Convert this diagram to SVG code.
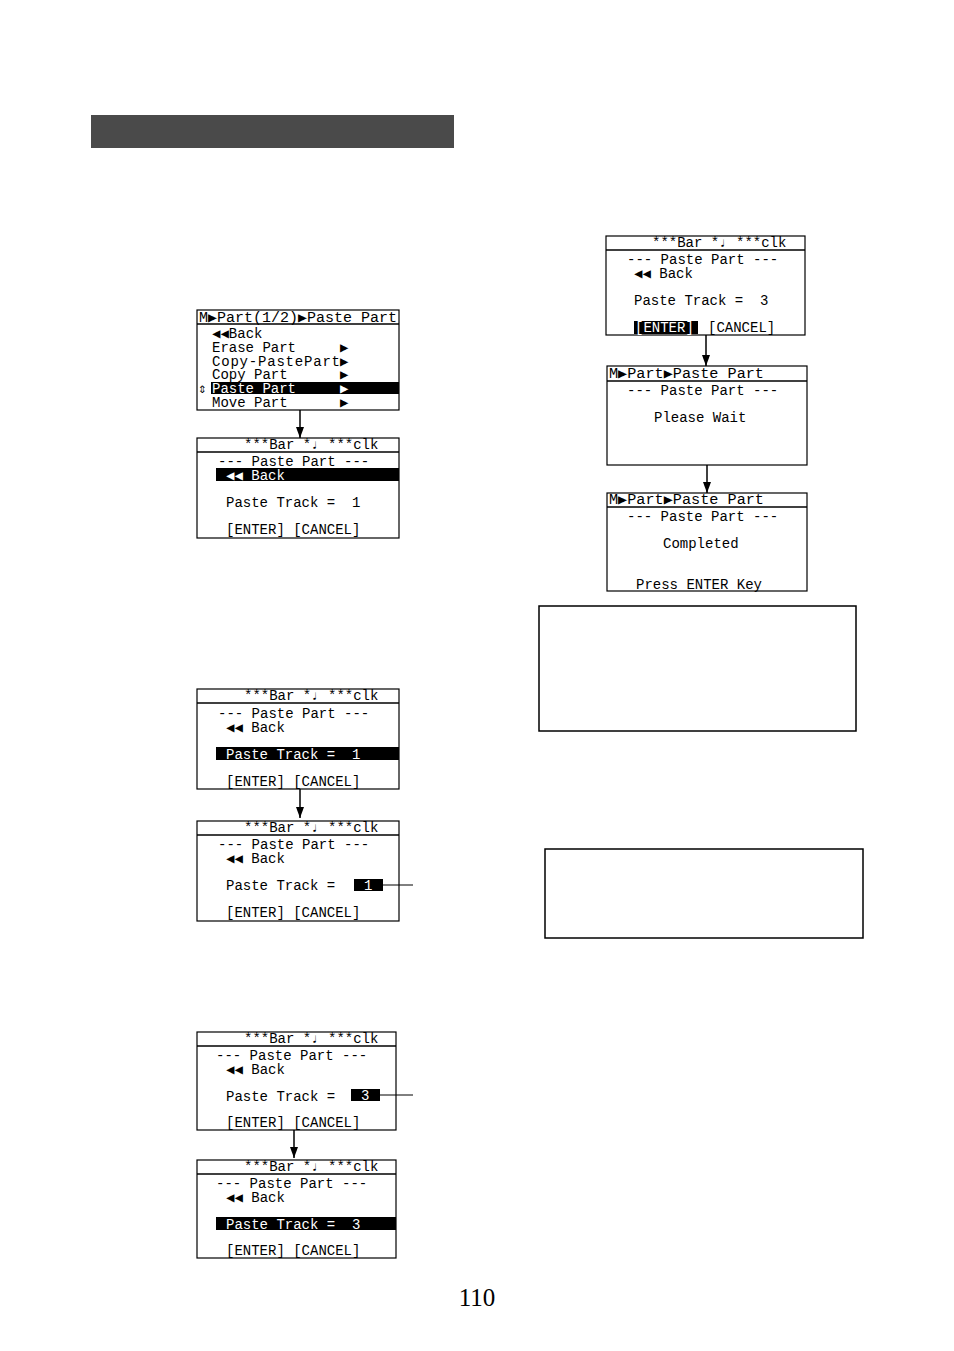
<svg xmlns="http://www.w3.org/2000/svg" width="954" height="1351" viewBox="0 0 954 1351">
<style>
.s{fill:#fff;stroke:#000;stroke-width:1.2}
.t{font-family:"Liberation Mono","DejaVu Sans Mono",monospace;font-size:14px;fill:#000;white-space:pre}
.w{fill:#fff}
.sep{stroke:#000;stroke-width:1.5}
.c{stroke:#000;stroke-width:1.5;fill:none}
</style>
<defs><marker id="d" markerWidth="8" markerHeight="11" refX="4" refY="11" orient="0" markerUnits="userSpaceOnUse" viewBox="0 0 8 11"><path d="M0,0L8,0L4,11Z"/></marker></defs>
<rect x="91" y="115" width="363" height="33" fill="#4a4a4a"/>
<g id="scrA"><rect class="s" x="197" y="310" width="202" height="100"/><line class="sep" x1="197" y1="324" x2="399" y2="324"/>
<rect x="211" y="382" width="188" height="12"/>
<text class="t" x="199" y="322" textLength="198" lengthAdjust="spacingAndGlyphs">M▶Part(1/2)▶Paste Part</text>
<text class="t" x="212" y="338">◀◀Back</text>
<text class="t" x="212" y="352">Erase Part</text><text class="t" x="340" y="352">▶</text>
<text class="t" x="212" y="366" textLength="128">Copy-PastePart</text><text class="t" x="340" y="366">▶</text>
<text class="t" x="212" y="379">Copy Part</text><text class="t" x="340" y="379">▶</text>
<text class="t" x="198" y="393" font-size="11">⇕</text><text class="t w" x="212" y="393">Paste Part</text><text class="t w" x="340" y="393">▶</text>
<text class="t" x="212" y="407">Move Part</text><text class="t" x="340" y="407">▶</text></g>
<g id="scrB"><rect class="s" x="197" y="438" width="202" height="100"/><line class="sep" x1="197" y1="452" x2="399" y2="452"/>
<rect x="216" y="468" width="183" height="13"/>
<text class="t" x="244" y="449">***Bar *♩ ***clk</text>
<text class="t" x="218" y="466">--- Paste Part ---</text>
<text class="t w" x="226" y="480">◀◀ Back</text>
<text class="t" x="226" y="507">Paste Track =  1</text>
<text class="t" x="226" y="534">[ENTER] [CANCEL]</text></g>
<g id="scrC"><rect class="s" x="197" y="689" width="202" height="100"/><line class="sep" x1="197" y1="703" x2="399" y2="703"/>
<rect x="216" y="747" width="183" height="13"/>
<text class="t" x="244" y="700">***Bar *♩ ***clk</text>
<text class="t" x="218" y="718">--- Paste Part ---</text>
<text class="t" x="226" y="732">◀◀ Back</text>
<text class="t w" x="226" y="759">Paste Track =  1</text>
<text class="t" x="226" y="786">[ENTER] [CANCEL]</text></g>
<g id="scrD"><rect class="s" x="197" y="821" width="202" height="100"/><line class="sep" x1="197" y1="835" x2="399" y2="835"/>
<rect x="354" y="879" width="29" height="12"/>
<text class="t" x="244" y="832">***Bar *♩ ***clk</text>
<text class="t" x="218" y="849">--- Paste Part ---</text>
<text class="t" x="226" y="863">◀◀ Back</text>
<text class="t" x="226" y="890">Paste Track =</text><text class="t w" x="364" y="890">1</text>
<text class="t" x="226" y="917">[ENTER] [CANCEL]</text></g>
<g id="scrE"><rect class="s" x="197" y="1032" width="199" height="98"/><line class="sep" x1="197" y1="1046" x2="396" y2="1046"/>
<rect x="351" y="1089" width="29" height="12"/>
<text class="t" x="244" y="1043">***Bar *♩ ***clk</text>
<text class="t" x="216" y="1060">--- Paste Part ---</text>
<text class="t" x="226" y="1074">◀◀ Back</text>
<text class="t" x="226" y="1101">Paste Track =</text><text class="t w" x="361" y="1100">3</text>
<text class="t" x="226" y="1127">[ENTER] [CANCEL]</text></g>
<g id="scrF"><rect class="s" x="197" y="1160" width="199" height="98"/><line class="sep" x1="197" y1="1174" x2="396" y2="1174"/>
<rect x="216" y="1217" width="180" height="13"/>
<text class="t" x="244" y="1171">***Bar *♩ ***clk</text>
<text class="t" x="216" y="1188">--- Paste Part ---</text>
<text class="t" x="226" y="1202">◀◀ Back</text>
<text class="t w" x="226" y="1229">Paste Track =  3</text>
<text class="t" x="226" y="1255">[ENTER] [CANCEL]</text></g>
<g id="scrG"><rect class="s" x="606" y="236" width="199" height="99"/><line class="sep" x1="606" y1="250" x2="805" y2="250"/>
<rect x="634" y="321" width="64" height="13"/>
<text class="t" x="652" y="247">***Bar *♩ ***clk</text>
<text class="t" x="627" y="264">--- Paste Part ---</text>
<text class="t" x="634" y="278">◀◀ Back</text>
<text class="t" x="634" y="305">Paste Track =  3</text>
<text class="t w" x="635" y="332">[ENTER]</text><text class="t" x="708" y="332">[CANCEL]</text></g>
<g id="scrH"><rect class="s" x="607" y="366" width="200" height="99"/><line class="sep" x1="607" y1="381" x2="807" y2="381"/>
<text class="t" x="609" y="378" textLength="155" lengthAdjust="spacingAndGlyphs">M▶Part▶Paste Part</text>
<text class="t" x="627" y="395">--- Paste Part ---</text>
<text class="t" x="654" y="422">Please Wait</text></g>
<g id="scrI"><rect class="s" x="607" y="493" width="200" height="98"/><line class="sep" x1="607" y1="507" x2="807" y2="507"/>
<text class="t" x="609" y="504" textLength="155" lengthAdjust="spacingAndGlyphs">M▶Part▶Paste Part</text>
<text class="t" x="627" y="521">--- Paste Part ---</text>
<text class="t" x="663" y="548">Completed</text>
<text class="t" x="636" y="589">Press ENTER Key</text></g>
<rect x="539" y="606" width="317" height="125" fill="none" stroke="#000" stroke-width="1.5"/>
<rect x="545" y="849" width="318" height="89" fill="none" stroke="#000" stroke-width="1.5"/>
<g id="connectors">
<line class="c" x1="300" y1="410" x2="300" y2="438" marker-end="url(#d)"/>
<line class="c" x1="300" y1="789" x2="300" y2="818" marker-end="url(#d)"/>
<line class="c" x1="294" y1="1130" x2="294" y2="1158" marker-end="url(#d)"/>
<line class="c" x1="706" y1="335" x2="706" y2="366" marker-end="url(#d)"/>
<line class="c" x1="707" y1="465" x2="707" y2="493" marker-end="url(#d)"/>
<line x1="383" y1="885" x2="413" y2="885" stroke="#000"/>
<line x1="380" y1="1095" x2="413" y2="1095" stroke="#000"/>
</g>
<text x="477" y="1306" text-anchor="middle" font-family="Liberation Serif,serif" font-size="25">110</text>
</svg>
